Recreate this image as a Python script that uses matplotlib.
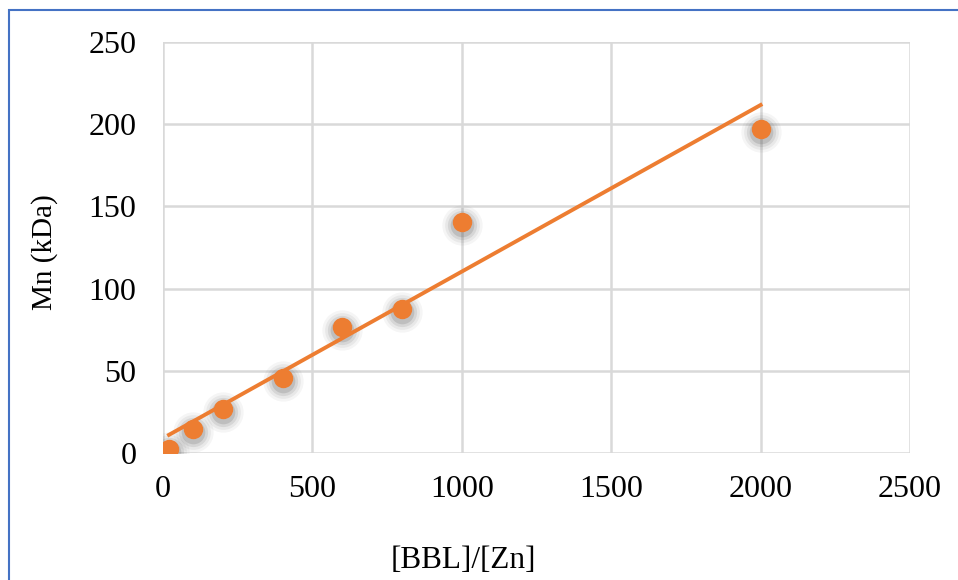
import numpy as np
import matplotlib
matplotlib.use("Agg")
import matplotlib.pyplot as plt
import matplotlib.transforms as mtrans
from matplotlib.patches import Rectangle

# data
ratio = [20, 100, 200, 400, 600, 800, 1000, 2000]
mn = [2.5, 14.5, 27, 45.5, 76.5, 87.5, 140.5, 197]
xticks = [0, 500, 1000, 1500, 2000, 2500]
yticks = [0, 50, 100, 150, 200, 250]

orange = '#ED7D31'
grid_c = '#D9D9D9'

plt.rcParams['font.family'] = ['Liberation Serif', 'DejaVu Serif']

fig = plt.figure(figsize=(9.58, 5.80), dpi=100)
ax = fig.add_axes([163/958, 1-453/580, (910-163)/958, (453-42)/580])

# blue frame round the chart
fig.patches.append(Rectangle((9/958, -0.1), 1.2, 1.1-10/580, transform=fig.transFigure,
                             fill=False, edgecolor='#4472C4', linewidth=1.5))

ax.set_xlim(0, 2500)
ax.set_ylim(0, 250)
ax.set_xticks(xticks)
ax.set_yticks(yticks)
ax.grid(True, color=grid_c, linewidth=1.8)
ax.set_axisbelow(True)
for s in ax.spines.values():
    s.set_visible(False)
ax.tick_params(length=0, labelsize=23)
ax.tick_params(axis='x', pad=16)
ax.tick_params(axis='y', pad=19)

# linear trendline
k, b = np.polyfit(ratio, mn, 1)
xl = np.array([ratio[0], ratio[-1]])
ax.plot(xl, k*xl + b, color=orange, linewidth=2.8, zorder=3)

# soft grey shadow under the markers
shift = ax.transData + mtrans.ScaledTranslation(0, -3/100, fig.dpi_scale_trans)
for sz, a in [(29, 0.06), (25, 0.08), (21, 0.12), (17, 0.18)]:
    ax.plot(ratio, mn, 'o', color='#555555', markersize=sz, alpha=a,
            markeredgewidth=0, zorder=2, transform=shift)
ax.plot(ratio, mn, 'o', color=orange, markersize=14, markeredgewidth=0, zorder=4)

fig.text(45/958, 1-252/580, 'Mn (kDa)', fontsize=21, rotation=90, ha='center', va='center')
fig.text(463/958, 1-560/580, '[BBL]/[Zn]', fontsize=22.5, ha='center', va='center')

fig.savefig('out.png', dpi=100)
